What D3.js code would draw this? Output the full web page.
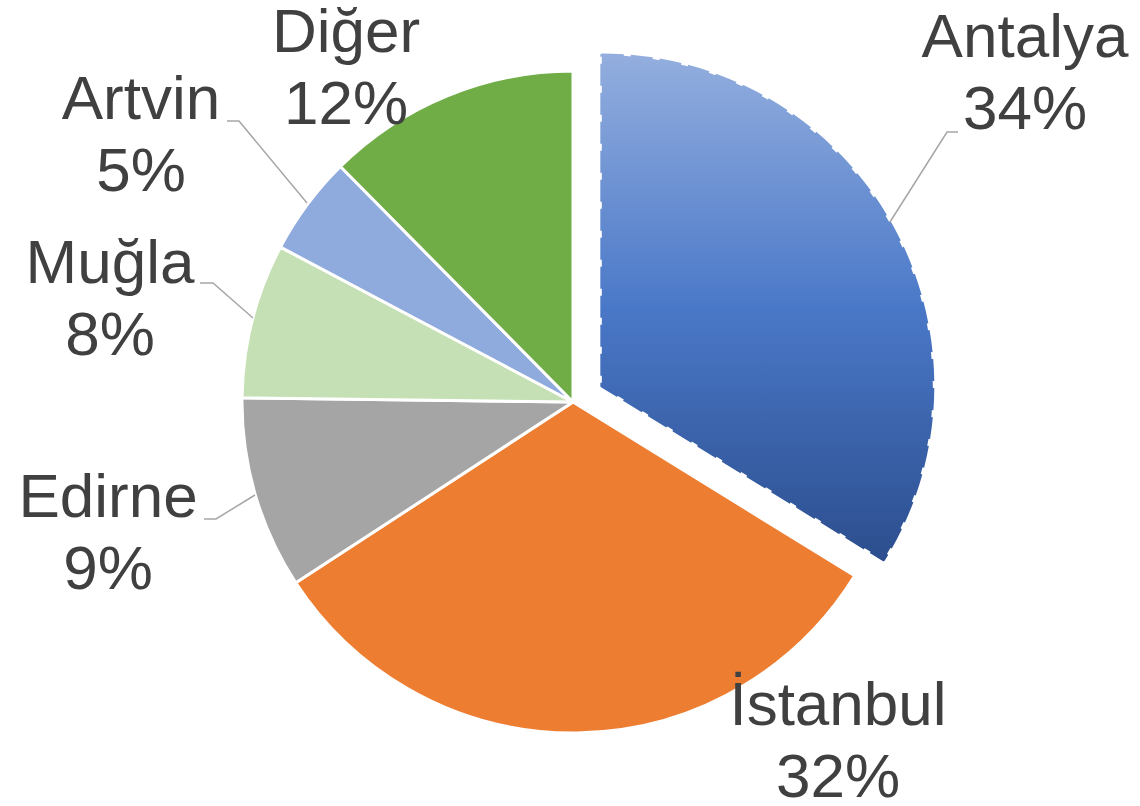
<!DOCTYPE html>
<html>
<head>
<meta charset="utf-8">
<script src="https://cdn.jsdelivr.net/npm/d3@7"></script>
<style>
  html, body { margin: 0; padding: 0; background: #ffffff; }
  svg { display: block; }
  text { font-family: "Liberation Sans", Arial, sans-serif; fill: #404040; }
</style>
</head>
<body>
<svg id="chart" width="1140" height="806"></svg>
<script>
// ---- data ----
const categories = ["Antalya", "İstanbul", "Edirne", "Muğla", "Artvin", "Diğer"];
const values = [33.8, 32.0, 9.4, 7.55, 4.85, 12.4];
const percentLabels = ["34%", "32%", "9%", "8%", "5%", "12%"];
const colors = ["url(#antalyaGrad)", "#ED7D31", "#A5A5A5", "#C5E0B4", "#8FAADC", "#70AD47"];

// ---- layout ----
const W = 1140, H = 806;
const cx = 573, cy = 402, R = 331;
const explodeIdx = 0, explodeDist = 33;
// label centres (x, first baseline) and leader polyline (from slice to label)
const labelPos = [
  { x: 1025, y: 57 },
  { x: 838, y: 725 },
  { x: 108, y: 517 },
  { x: 110, y: 283 },
  { x: 141, y: 119 },
  { x: 346, y: 52 }
];
const leaders = [
  [[890, 222], [947, 132], [958, 132]],
  null,
  [[255, 495], [216, 519], [204, 519]],
  [[253, 318], [213, 283], [200, 283]],
  [[307, 203], [239, 121], [227, 121]],
  null
];

const svg = d3.select("#chart");
const defs = svg.append("defs");
const grad = defs.append("linearGradient")
  .attr("id", "antalyaGrad")
  .attr("x1", 0).attr("y1", 0).attr("x2", 0).attr("y2", 1);
grad.append("stop").attr("offset", "0%").attr("stop-color", "#93AEDE");
grad.append("stop").attr("offset", "50%").attr("stop-color", "#4A78C8");
grad.append("stop").attr("offset", "100%").attr("stop-color", "#2C4E8E");

const pie = d3.pie().value(d => d).sort(null);
const arcs = pie(values);
const arc = d3.arc().innerRadius(0).outerRadius(R);

const g = svg.append("g").attr("transform", `translate(${cx},${cy})`);

g.selectAll("path.slice")
  .data(arcs)
  .enter()
  .append("path")
  .attr("class", "slice")
  .attr("transform", (d, i) => {
    if (i !== explodeIdx) return null;
    const a = (d.startAngle + d.endAngle) / 2;
    return `translate(${Math.sin(a) * explodeDist},${-Math.cos(a) * explodeDist})`;
  })
  .attr("d", arc)
  .attr("fill", (d, i) => colors[i])
  .attr("stroke", (d, i) => i === explodeIdx ? "url(#antalyaGrad)" : "#ffffff")
  .attr("stroke-width", 3)
  .attr("stroke-dasharray", (d, i) => i === explodeIdx ? "22,7" : null)
  .attr("stroke-linejoin", "round");

// leader lines
const line = d3.line();
svg.selectAll("path.leader")
  .data(leaders.filter(l => l))
  .enter()
  .append("path")
  .attr("class", "leader")
  .attr("d", d => line(d))
  .attr("fill", "none")
  .attr("stroke", "#A6A6A6")
  .attr("stroke-width", 1.5);

// labels
const lbl = svg.selectAll("text.label")
  .data(categories)
  .enter()
  .append("text")
  .attr("class", "label")
  .attr("text-anchor", "middle")
  .attr("font-size", 62)
  .attr("x", (d, i) => labelPos[i].x)
  .attr("y", (d, i) => labelPos[i].y);
lbl.append("tspan").text(d => d);
lbl.append("tspan")
  .attr("x", (d, i) => labelPos[i].x)
  .attr("dy", 72)
  .text((d, i) => percentLabels[i]);
</script>
</body>
</html>
